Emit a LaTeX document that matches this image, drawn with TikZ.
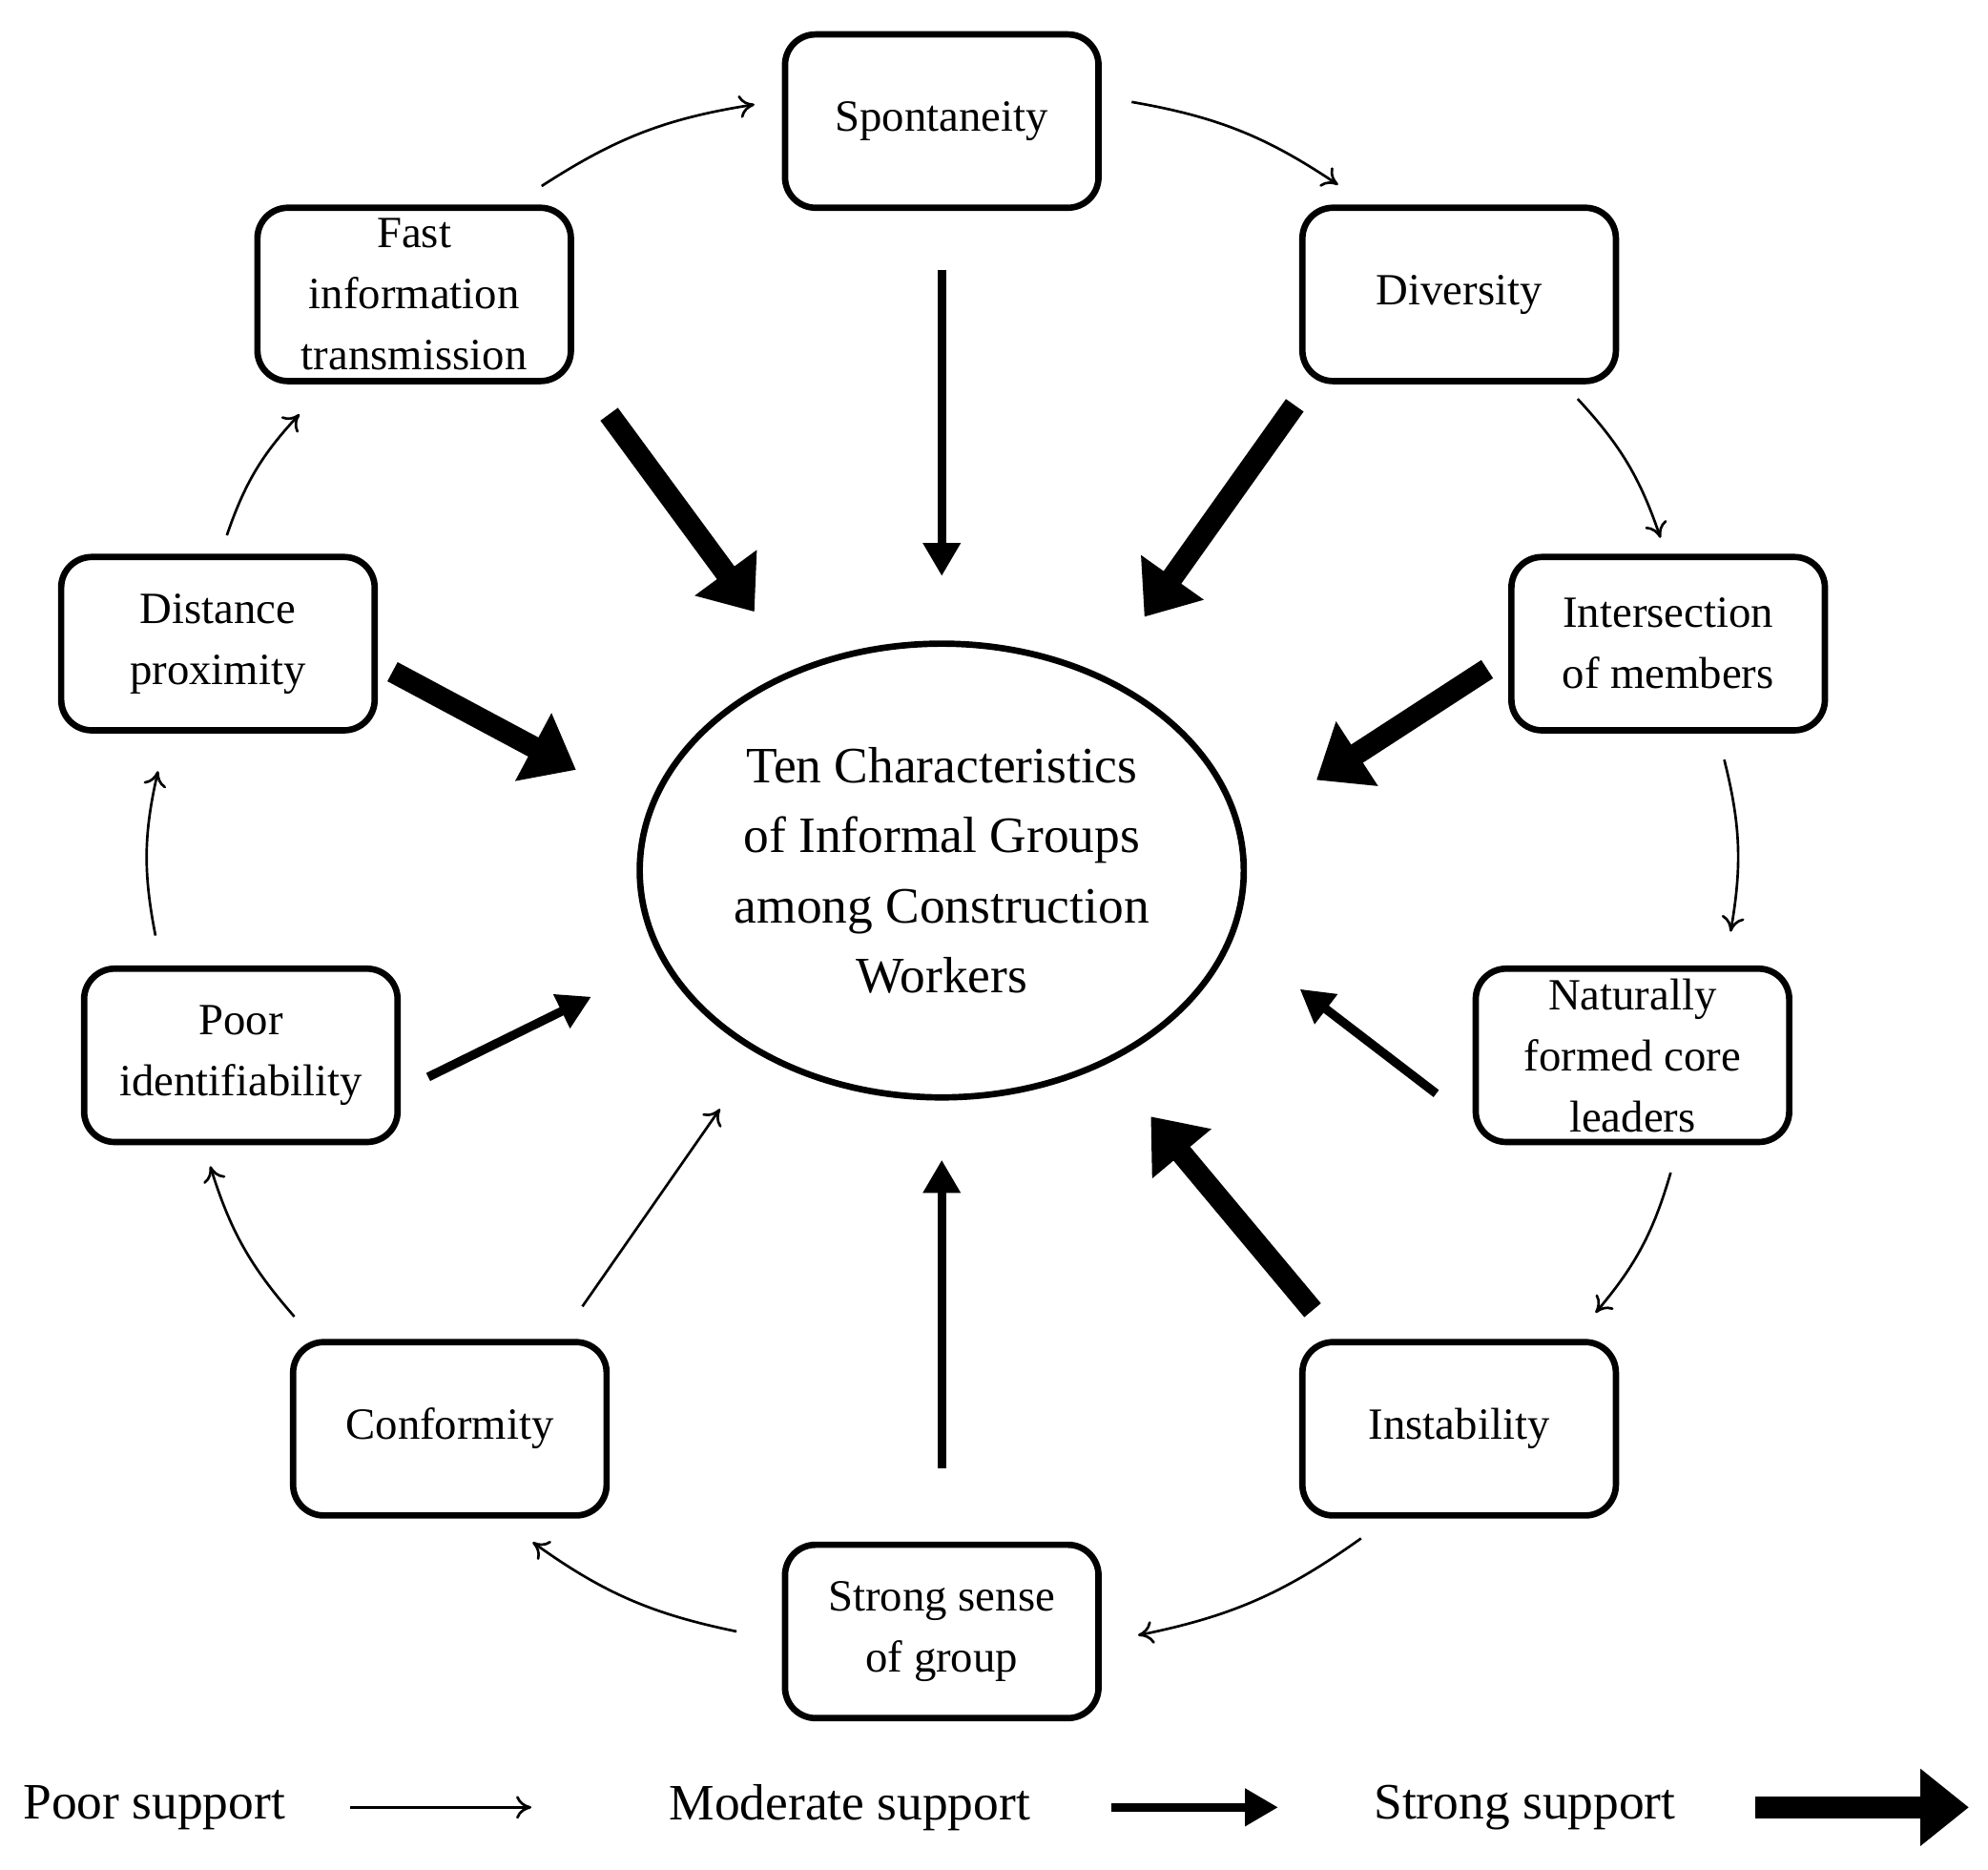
\documentclass[tikz,border=0pt]{standalone}
\usepackage{fontspec}
\setmainfont{Liberation Serif}
\usetikzlibrary{arrows.meta,shapes.geometric}
\begin{document}
\begin{tikzpicture}[x=1pt,y=-1pt,
 box/.style={draw,line width=5pt,rounded corners=24pt,minimum width=246pt,minimum height=136pt,align=center,font=\fontsize{35}{48}\selectfont,inner sep=0pt},
 poor/.style={line width=2pt,-{To[length=12pt,width=18pt]}},
 mod/.style={line width=7pt,-{Triangle[length=26pt,width=28pt]}},
 strong/.style={line width=17pt,-{Triangle[length=38pt,width=58pt]}},
 leg/.style={font=\fontsize{40}{48}\selectfont,anchor=west,inner sep=0pt}]
\useasboundingbox (0,0) rectangle (1560,1467);
\node[box] (spon) at (739,95) {Spontaneity};
\node[box] (div) at (1145,231) {Diversity};
\node[box] (fast) at (325,231) {Fast\\information\\transmission};
\node[box] (inter) at (1309,505) {Intersection\\of members};
\node[box] (dist) at (171,505) {Distance\\proximity};
\node[box] (nat) at (1281,828) {Naturally\\formed core\\leaders};
\node[box] (poorid) at (189,828) {Poor\\identifiability};
\node[box] (inst) at (1145,1121) {Instability};
\node[box] (conf) at (353,1121) {Conformity};
\node[box] (sense) at (739,1280) {Strong sense\\of group};
\node[draw,line width=5pt,ellipse,minimum width=474pt,minimum height=356pt,align=center,font=\fontsize{40}{55}\selectfont] (ell) at (739,683) {Ten Characteristics\\of Informal Groups\\among Construction\\Workers};
% spokes
\coordinate (s1) at (739,212); \coordinate (e1) at (739,452);
\coordinate (s2) at (478,325); \coordinate (e2) at (592,480);
\coordinate (s3) at (1016,318); \coordinate (e3) at (898,484);
\coordinate (s4) at (308,527); \coordinate (e4) at (452,604);
\coordinate (s5) at (1167,525); \coordinate (e5) at (1033,612);
\coordinate (s6) at (336,845); \coordinate (e6) at (464,782);
\coordinate (s7) at (1127,858); \coordinate (e7) at (1020,776);
\coordinate (s8) at (457,1025); \coordinate (e8) at (565,870);
\coordinate (s9) at (1030,1028); \coordinate (e9) at (903,876);
\coordinate (s10) at (739,1152); \coordinate (e10) at (739,910);
\draw[mod] (s1) -- (e1);
\draw[strong] (s2) -- (e2);
\draw[strong] (s3) -- (e3);
\draw[strong] (s4) -- (e4);
\draw[strong] (s5) -- (e5);
\draw[mod] (s6) -- (e6);
\draw[mod] (s7) -- (e7);
\draw[poor] (s8) -- (e8);
\draw[strong] (s9) -- (e9);
\draw[mod] (s10) -- (e10);
% ring
\coordinate (r1a) at (425,146); \coordinate (r1b) at (592,82);
\coordinate (r2a) at (888,80); \coordinate (r2b) at (1050,145);
\coordinate (r3a) at (1238,313); \coordinate (r3b) at (1303,422);
\coordinate (r4a) at (1353,596); \coordinate (r4b) at (1358,731);
\coordinate (r5a) at (1311,920); \coordinate (r5b) at (1252,1030);
\coordinate (r6a) at (1068,1207); \coordinate (r6b) at (893,1283);
\coordinate (r7a) at (578,1280); \coordinate (r7b) at (418,1210);
\coordinate (r8a) at (231,1033); \coordinate (r8b) at (165,915);
\coordinate (r9a) at (122,734); \coordinate (r9b) at (124,605);
\coordinate (r10a) at (178,420); \coordinate (r10b) at (235,325);
\foreach \i in {1,...,10}{\draw[poor] (r\i a) to[bend left=12] (r\i b);}
% legend
\node[leg] (l1) at (18,1418) {Poor support};
\coordinate (a1) at (275,1418); \coordinate (b1) at (417,1418);
\draw[poor] (a1) -- (b1);
\node[leg] (l2) at (525,1418) {Moderate support};
\coordinate (a2) at (872,1418); \coordinate (b2) at (1003,1418);
\draw[mod] (a2) -- (b2);
\node[leg] (l3) at (1078,1418) {Strong support};
\coordinate (a3) at (1377,1418); \coordinate (b3) at (1545,1418);
\draw[strong] (a3) -- (b3);
\end{tikzpicture}
\end{document}
